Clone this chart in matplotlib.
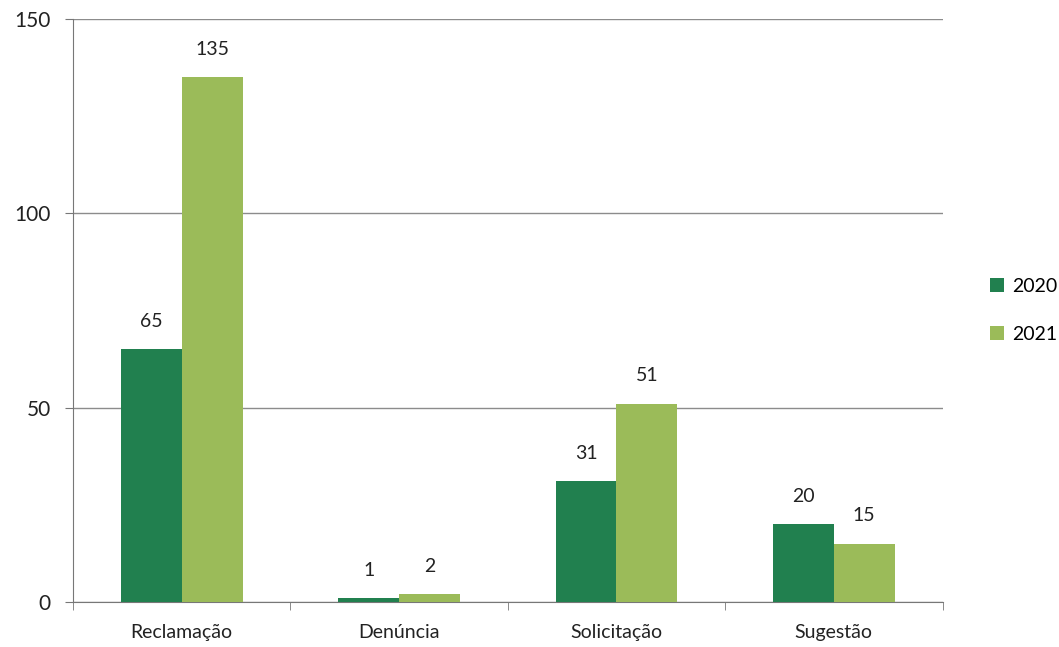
import matplotlib.pyplot as plt
import numpy as np

plt.rcParams['font.family'] = ['Lato', 'DejaVu Sans']

categorias = ['Reclamação', 'Denúncia', 'Solicitação', 'Sugestão']
anos = ['2020', '2021']
v2020 = [65, 1, 31, 20]
v2021 = [135, 2, 51, 15]
cores = ['#21804f', '#9bbb59']

fig = plt.figure(figsize=(10.59, 6.47), dpi=100)
ax = fig.add_axes([0.069, 0.0696, 0.821, 0.901])

x = np.arange(len(categorias))
w = 0.28
for desloc, vals, ano, cor in [(-w / 2, v2020, anos[0], cores[0]),
                               (w / 2, v2021, anos[1], cores[1])]:
    barras = ax.bar(x + desloc, vals, width=w, color=cor, label=ano, zorder=3)
    for b, v in zip(barras, vals):
        ax.text(b.get_x() + b.get_width() / 2, v + 5, str(v),
                ha='center', va='bottom', fontsize=14, color='#222222')

ax.set_xlim(-0.5, len(categorias) - 0.5)
ax.set_ylim(0, 150)
ax.set_yticks([0, 50, 100, 150])
ax.yaxis.grid(True, color='#8c8c8c', linewidth=1, zorder=0)
ax.set_xticks(x)
ax.set_xticklabels(categorias, fontsize=14, color='#222222')
ax.set_xticks(np.arange(-0.5, len(categorias)), minor=True)
ax.tick_params(axis='x', which='major', length=0, pad=16)
ax.tick_params(axis='x', which='minor', length=6, direction='out', color='#777777')
ax.tick_params(axis='y', length=6, direction='out', color='#777777',
               labelsize=15, labelcolor='#222222', pad=10)
for s in ['top', 'right']:
    ax.spines[s].set_visible(False)
for s in ['left', 'bottom']:
    ax.spines[s].set_color('#777777')

ax.legend(loc='center left', bbox_to_anchor=(1.035, 0.5), frameon=False,
          fontsize=14, handlelength=0.7, handleheight=0.7, handletextpad=0.4,
          labelspacing=1.6)

fig.savefig('out.png', dpi=100)
